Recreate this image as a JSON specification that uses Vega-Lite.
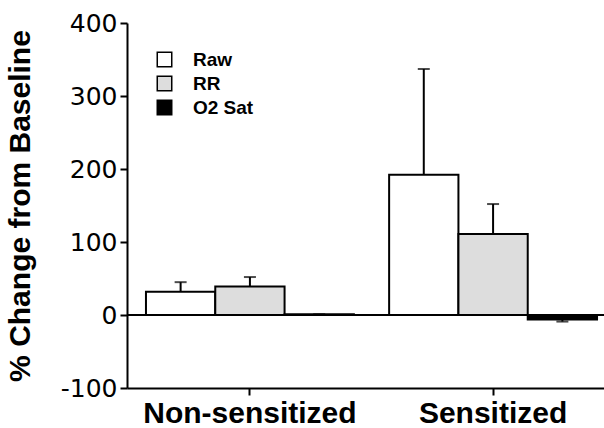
{
  "$schema": "https://vega.github.io/schema/vega-lite/v6.json",
  "width": 477,
  "height": 365,
  "autosize": {"type": "none"},
  "padding": {"left": 127, "top": 23, "right": 0, "bottom": 40},
  "background": "white",
  "config": {"view": {"stroke": null}},
  "data": {
    "values": [
      {"group": "Non-sensitized", "series": "Raw", "value": 32, "upper": 45},
      {"group": "Non-sensitized", "series": "RR", "value": 39, "upper": 52},
      {"group": "Non-sensitized", "series": "O2 Sat", "value": 1, "upper": 1},
      {"group": "Sensitized", "series": "Raw", "value": 192, "upper": 337},
      {"group": "Sensitized", "series": "RR", "value": 111, "upper": 152},
      {"group": "Sensitized", "series": "O2 Sat", "value": -6, "upper": -9}
    ]
  },
  "encoding": {
    "x": {
      "field": "group",
      "type": "nominal",
      "sort": ["Non-sensitized", "Sensitized"],
      "scale": {"range": [0, 489], "paddingInner": 0.145, "paddingOuter": 0.078},
      "axis": {
        "title": null,
        "labelAngle": 0,
        "labelLimit": 0,
        "labelFont": "Liberation Sans",
        "labelFontWeight": "bold",
        "labelFontSize": 30,
        "labelColor": "black",
        "labelPadding": 3,
        "domainColor": "black",
        "domainWidth": 2,
        "tickColor": "black",
        "tickWidth": 2,
        "tickSize": 7
      }
    },
    "xOffset": {
      "field": "series",
      "type": "nominal",
      "sort": ["Raw", "RR", "O2 Sat"],
      "scale": {"paddingInner": 0, "paddingOuter": 0}
    }
  },
  "layer": [
    {
      "mark": {"type": "bar", "stroke": "black", "strokeWidth": 2},
      "encoding": {
        "y": {
          "field": "value",
          "type": "quantitative",
          "scale": {"domain": [-100, 400], "nice": false},
          "axis": {
            "title": "% Change from Baseline",
            "titleFont": "Liberation Sans",
            "titleFontWeight": "bold",
            "titleFontSize": 30,
            "titleColor": "black",
            "titleX": -92,
            "values": [-100, 0, 100, 200, 300, 400],
            "labelExpr": "'' + datum.value",
            "grid": false,
            "labelFont": "DejaVu Sans",
            "labelFontSize": 25,
            "labelColor": "black",
            "labelPadding": 3,
            "domainColor": "black",
            "domainWidth": 2,
            "tickColor": "black",
            "tickWidth": 2,
            "tickSize": 7
          }
        },
        "fill": {
          "field": "series",
          "type": "nominal",
          "sort": ["Raw", "RR", "O2 Sat"],
          "scale": {"domain": ["Raw", "RR", "O2 Sat"], "range": ["white", "#dddddd", "black"]},
          "legend": {
            "title": null,
            "orient": "none",
            "legendX": 28,
            "legendY": 27,
            "padding": 0,
            "symbolType": "square",
            "symbolSize": 210,
            "symbolStrokeColor": "black",
            "symbolStrokeWidth": 1.5,
            "labelFont": "Liberation Sans",
            "labelFontWeight": "bold",
            "labelFontSize": 19,
            "labelColor": "black",
            "labelOffset": 19,
            "rowPadding": 3
          }
        }
      }
    },
    {
      "mark": {"type": "rule", "color": "black", "strokeWidth": 2},
      "encoding": {
        "y": {"field": "value", "type": "quantitative"},
        "y2": {"field": "upper"}
      }
    },
    {
      "mark": {"type": "tick", "color": "black", "thickness": 2, "size": 12},
      "encoding": {
        "y": {"field": "upper", "type": "quantitative"}
      }
    },
    {
      "mark": {"type": "rule", "color": "black", "strokeWidth": 2},
      "encoding": {"y": {"datum": 0}, "x": null, "xOffset": null}
    }
  ]
}
